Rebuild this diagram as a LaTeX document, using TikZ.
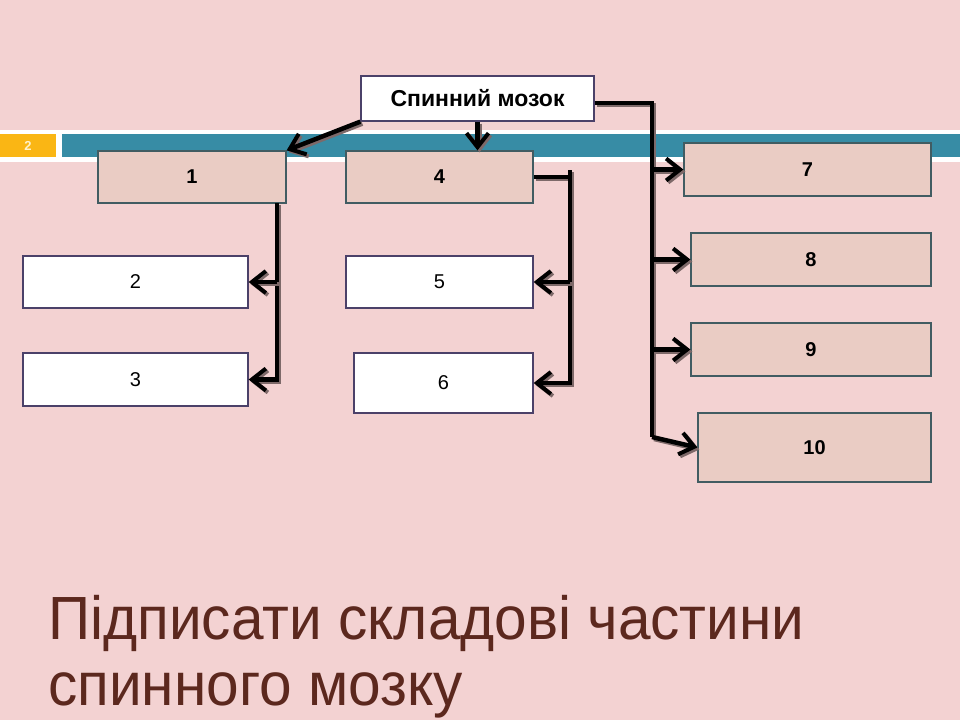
\documentclass[tikz,border=0pt]{standalone}
\usepackage{fontspec}
\setmainfont{Liberation Sans}
\newfontfamily\narrowfont[FakeStretch=0.96]{Liberation Sans}
\usetikzlibrary{positioning,arrows.meta}
\definecolor{SlidePink}{RGB}{243,210,210}
\definecolor{BarTeal}{RGB}{55,140,165}
\definecolor{BarOrange}{RGB}{250,182,20}
\definecolor{PageCream}{RGB}{255,242,205}
\definecolor{BoxFill}{RGB}{234,204,196}
\definecolor{BoxEdge}{RGB}{65,92,98}
\definecolor{HeadEdge}{RGB}{75,65,105}
\definecolor{ShadowGray}{RGB}{125,105,105}
\definecolor{TitleBrown}{RGB}{92,40,30}
\tikzset{
  box/.style={draw=BoxEdge,line width=1.3pt,inner sep=0pt,font=\fontsize{20}{22}\selectfont},
  pinkbox/.style={box,fill=BoxFill,font=\fontsize{20}{22}\selectfont\bfseries},
  whitebox/.style={box,draw=HeadEdge,fill=white},
  headbox/.style={box,draw=HeadEdge,fill=white,minimum width=233pt,minimum height=45pt,
    font=\fontsize{23}{26}\selectfont\bfseries},
  conn/.style={line width=4.5pt,preaction={draw=ShadowGray,line width=4.5pt,
    transform canvas={shift={(2pt,-2pt)}}}},
  arr/.style={conn,-{Straight Barb[length=14pt,width=22pt,line width=4pt]}},
  caption/.style={anchor=base west,inner sep=0pt,text=TitleBrown,
    font=\narrowfont\fontsize{61}{70}\selectfont},
}
\begin{document}
\begin{tikzpicture}[x=1pt,y=-1pt]
\useasboundingbox (0,0) rectangle (960,720);
\fill[SlidePink] (0,0) rectangle (960,720);
% title strip
\fill[white] (0,130) rectangle (960,162);
\fill[BarOrange] (0,134) rectangle (56,157);
\fill[BarTeal] (62,134) rectangle (960,157);
\node[text=PageCream,font=\fontsize{13}{15}\selectfont\bfseries] (pg) at (28,146) {2};
% boxes
\node[headbox] (brain) at (477.5,98.5) {Спинний мозок};
\node[pinkbox,minimum width=188pt,minimum height=52pt] (b1) at (192,177) {1};
\node[pinkbox,minimum width=187pt,minimum height=52pt] (b4) at (439.5,177) {4};
\node[pinkbox,minimum width=247pt,minimum height=53pt] (b7) at (807.5,169.5) {7};
\node[pinkbox,minimum width=240pt,minimum height=53pt] (b8) at (811,259.5) {8};
\node[pinkbox,minimum width=240pt,minimum height=53pt] (b9) at (811,349.5) {9};
\node[pinkbox,minimum width=233pt,minimum height=69pt] (b10) at (814.5,447.5) {10};
\node[whitebox,minimum width=225pt,minimum height=52pt] (b2) at (135.5,282) {2};
\node[whitebox,minimum width=225pt,minimum height=53pt] (b3) at (135.5,379.5) {3};
\node[whitebox,minimum width=187pt,minimum height=52pt] (b5) at (439.5,282) {5};
\node[whitebox,minimum width=179pt,minimum height=60pt] (b6) at (443.5,383) {6};
% connectors
\coordinate (busR) at (652,103);
\coordinate (busEnd) at (652,437);
\coordinate (t1) at (277,203);
\coordinate (t4) at (570,170);
\draw[arr] (brain.south west) -- (b1.north east);
\draw[arr] (brain.south) -- (brain.south |- b4.north);
\draw[conn] (busR -| brain.east) -- (busR) -- (busEnd);
\draw[arr] (b7.west -| busR) -- (b7.west);
\draw[arr] (b8.west -| busR) -- (b8.west);
\draw[arr] (b9.west -| busR) -- (b9.west);
\draw[arr] (busEnd) -- (b10.west);
\draw[arr] (t1) |- (b3.east);
\draw[arr] (b2.east -| t1) -- (b2.east);
\draw[conn] (b4.east) -| (t4);
\draw[arr] (t4) |- (b6.east);
\draw[arr] (b5.east -| t4) -- (b5.east);
% caption
\node[caption] (cap1) at (48,639) {Підписати складові частини};
\node[caption] (cap2) at (48,705) {спинного мозку};
\end{tikzpicture}
\end{document}
